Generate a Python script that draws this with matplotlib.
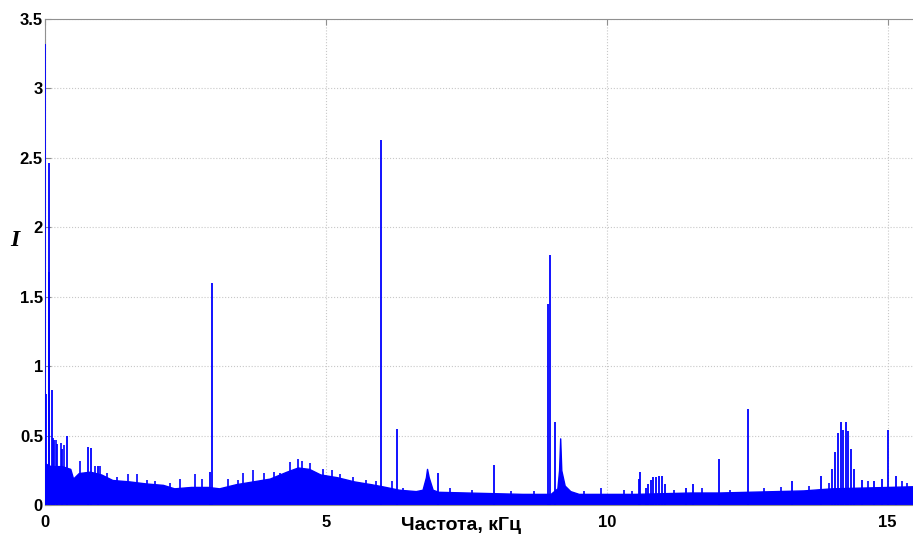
import matplotlib.pyplot as plt
import numpy as np

# noise floor of the spectrum (kHz, I)
floor_f = [0.0, 0.1, 0.3, 0.45, 0.5, 0.6, 0.8, 1.0, 1.2, 1.5, 1.8, 2.1, 2.3, 2.6,
           2.9, 3.1, 3.4, 3.7, 4.0, 4.3, 4.5, 4.7, 4.9, 5.2, 5.5, 5.8, 6.0, 6.3,
           6.6, 6.72, 6.78, 6.8, 6.83, 6.9, 7.0, 7.5, 8.0, 8.5, 9.0, 9.12, 9.15,
           9.17, 9.19, 9.25, 9.35, 9.5, 10.0, 10.5, 11.0, 11.5, 12.0, 12.5, 13.0,
           13.5, 14.0, 14.5, 15.0, 15.45]
floor_i = [0.30, 0.28, 0.28, 0.26, 0.19, 0.23, 0.24, 0.22, 0.18, 0.17, 0.155, 0.145,
           0.12, 0.13, 0.13, 0.12, 0.15, 0.17, 0.19, 0.24, 0.27, 0.26, 0.22, 0.20,
           0.17, 0.15, 0.135, 0.11, 0.10, 0.11, 0.20, 0.26, 0.20, 0.11, 0.095,
           0.09, 0.085, 0.08, 0.08, 0.12, 0.25, 0.48, 0.25, 0.14, 0.10, 0.08,
           0.08, 0.08, 0.085, 0.09, 0.09, 0.095, 0.10, 0.105, 0.12, 0.125,
           0.13, 0.135]

# small spikes on top of the noise (kHz, I)
tip_f = [0.15, 0.2, 0.28, 0.33, 0.63, 0.89, 0.98, 1.1, 1.28, 1.48, 1.63, 1.81,
         1.96, 2.22, 2.4, 2.67, 2.79, 3.26, 3.44, 3.53, 3.71, 3.89, 4.07, 4.18,
         4.36, 4.51, 4.57, 4.71, 4.95, 5.1, 5.25, 5.49, 5.72, 5.9, 6.17, 6.38,
         7.2, 7.6, 8.3, 8.7, 9.6, 9.9, 10.3, 10.45, 11.2, 11.7, 12.2, 12.8, 13.1,
         13.6, 13.95, 14.65, 15.25, 15.35]
tip_i = [0.48, 0.47, 0.45, 0.43, 0.32, 0.28, 0.28, 0.23, 0.20, 0.22, 0.22, 0.18,
         0.17, 0.16, 0.185, 0.22, 0.19, 0.185, 0.18, 0.23, 0.25, 0.23, 0.24, 0.23,
         0.31, 0.33, 0.32, 0.30, 0.26, 0.25, 0.22, 0.20, 0.18, 0.17, 0.17, 0.12,
         0.12, 0.11, 0.10, 0.10, 0.10, 0.12, 0.11, 0.10, 0.11, 0.12, 0.11, 0.12,
         0.13, 0.14, 0.16, 0.17, 0.17, 0.16]

# narrow lines (kHz, I)
peak_f = [0.008, 0.02, 0.065, 0.08, 0.12, 0.16, 0.22, 0.31, 0.40, 0.77, 0.82, 0.95,
          2.94, 2.98, 5.98, 6.26, 7.0, 8.0, 8.96, 8.98, 9.08, 10.57, 10.59,
          10.69, 10.74, 10.78, 10.83, 10.87, 10.93, 10.98, 11.03, 11.41, 11.54,
          11.99, 12.51, 13.29, 13.82, 14.01, 14.06, 14.11, 14.16, 14.2, 14.25,
          14.3, 14.35, 14.4, 14.54, 14.76, 14.89, 15.01, 15.15]
peak_i = [3.32, 0.80, 2.46, 1.68, 0.83, 0.47, 0.44, 0.40, 0.50, 0.42, 0.41, 0.28,
          0.24, 1.60, 2.63, 0.55, 0.23, 0.29, 1.45, 1.80, 0.60, 0.19, 0.235,
          0.12, 0.15, 0.18, 0.20, 0.20, 0.21, 0.21, 0.15, 0.12, 0.15, 0.33,
          0.69, 0.17, 0.21, 0.26, 0.38, 0.52, 0.60, 0.54, 0.60, 0.53, 0.40,
          0.26, 0.18, 0.17, 0.19, 0.54, 0.21]

blue = '#0000ff'
plt.rcParams['font.family'] = ['Liberation Sans', 'DejaVu Sans']

fig = plt.figure(figsize=(9.13, 5.34), dpi=100)
ax = fig.add_axes([45/913, 29/534, 868/913, 486/534])

ax.fill_between(floor_f, 0, floor_i, color=blue, lw=1.0, edgecolor=blue)
ax.vlines(tip_f, 0, tip_i, color=blue, lw=1.2)
ax.vlines(peak_f, 0, peak_i, color=blue, lw=1.3, zorder=3)

ax.set_xlim(0, 15.45)
ax.set_ylim(0, 3.5)
ax.set_xticks([0, 5, 10, 15])
ax.set_yticks(np.arange(0, 3.51, 0.5))
ax.set_yticklabels(['0', '0.5', '1', '1.5', '2', '2.5', '3', '3.5'])
ax.grid(True, ls=':', color='#c8c8c8', lw=0.8)
ax.set_axisbelow(True)
ax.tick_params(direction='in', color='#909090', length=4, labelsize=12, top=True)
ax.tick_params(axis='x', pad=7)
ax.tick_params(axis='y', pad=1.5)
for lab in ax.get_xticklabels() + ax.get_yticklabels():
    lab.set_fontweight('bold')
for s in ['left', 'top', 'bottom']:
    ax.spines[s].set_color('#909090')
ax.spines['right'].set_visible(False)

fig.text(461/913, 4/534, 'Частота, кГц', fontsize=14, fontweight='bold',
         ha='center', va='baseline')
fig.text(15/913, (534-241)/534, 'I', fontsize=17, fontweight='bold',
         fontstyle='italic', family='Liberation Serif', ha='center', va='center')

fig.savefig('out.png', dpi=100)
